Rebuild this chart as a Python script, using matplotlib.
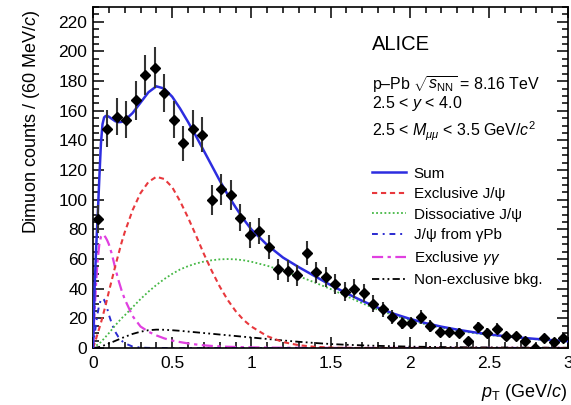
import numpy as np
import matplotlib
matplotlib.use("Agg")
import matplotlib.pyplot as plt
from matplotlib.ticker import MultipleLocator, FuncFormatter

plt.rcParams["font.family"] = ["Liberation Sans", "DejaVu Sans"]
plt.rcParams["mathtext.fontset"] = "custom"
plt.rcParams["mathtext.rm"] = "Liberation Sans"
plt.rcParams["mathtext.it"] = "Liberation Sans:italic"
plt.rcParams["mathtext.bf"] = "Liberation Sans:bold"
plt.rcParams["mathtext.sf"] = "Liberation Sans"

# Measured dimuon pT spectrum, 60 MeV/c bins
pt_bins = [0.03, 0.09, 0.15, 0.21, 0.27, 0.33, 0.39, 0.45, 0.51, 0.57,
           0.63, 0.69, 0.75, 0.81, 0.87, 0.93, 0.99, 1.05, 1.11, 1.17,
           1.23, 1.29, 1.35, 1.41, 1.47, 1.53, 1.59, 1.65, 1.71, 1.77,
           1.83, 1.89, 1.95, 2.01, 2.07, 2.13, 2.19, 2.25, 2.31, 2.37,
           2.43, 2.49, 2.55, 2.61, 2.67, 2.73, 2.79, 2.85, 2.91, 2.97]
counts = [87, 148, 156, 154, 167, 184, 189, 172, 154, 138,
          148, 144, 100, 107, 103, 88, 76, 79, 68, 53,
          52, 49, 64, 51, 48, 43, 38, 40, 37, 30,
          26, 21, 17, 17, 21, 15, 11, 11, 10, 5,
          14, 10, 13, 8, 8, 5, 0, 7, 4, 7]
count_errors = [9.3, 12.2, 12.5, 12.4, 12.9, 13.6, 13.7, 13.1, 12.4, 11.7,
                12.2, 12.0, 10.0, 10.3, 10.1, 9.4, 8.7, 8.9, 8.2, 7.3,
                7.2, 7.0, 8.0, 7.1, 6.9, 6.6, 6.2, 6.3, 6.1, 5.5,
                5.1, 4.6, 4.1, 4.1, 4.6, 3.9, 3.3, 3.3, 3.2, 2.2,
                3.7, 3.2, 3.6, 2.8, 2.8, 2.2, 0.0, 2.6, 2.0, 2.6]

# Fit model components sampled in pT
pt_model = [0.00, 0.01, 0.02, 0.03, 0.04, 0.05, 0.06, 0.07, 0.08, 0.09,
            0.10, 0.12, 0.14, 0.16, 0.18, 0.20, 0.25, 0.30, 0.35, 0.40,
            0.45, 0.50, 0.55, 0.60, 0.65, 0.70, 0.75, 0.80, 0.85, 0.90,
            0.95, 1.00, 1.10, 1.20, 1.30, 1.40, 1.50, 1.60, 1.70, 1.80,
            1.90, 2.00, 2.10, 2.20, 2.30, 2.40, 2.50, 2.60, 2.70, 2.80,
            2.90, 3.00]
fit_sum = [0, 40, 68, 90, 115, 138, 151, 155.5, 156.5, 156.5,
           156, 154.5, 153, 152.3, 152.5, 153.5, 158.5, 165.5, 172.5, 176.5,
           175, 169.5, 161.5, 152.5, 143, 133, 123, 113, 103.5, 95,
           87, 80, 69.5, 61, 54.5, 48.5, 42.5, 37, 31.8, 27.2,
           23.1, 19.7, 16.8, 14.4, 12.4, 10.7, 9.2, 8.0, 7.0, 6.1,
           5.3, 4.6]
excl_jpsi = [0, 3, 6.5, 10, 13.5, 17, 21, 25, 29, 33.5,
             38, 46.5, 55, 63, 71, 78, 93, 104.5, 112, 115.5,
             114, 108.5, 99, 88, 76, 63.5, 52, 41.5, 32.5, 25,
             19, 14.5, 8, 4, 1.9, 0.8, 0.3, 0.1, 0, 0,
             0, 0, 0, 0, 0, 0, 0, 0, 0, 0,
             0, 0]
diss_jpsi = [0, 0.8, 1.6, 2.4, 3.2, 4, 5.2, 6.4, 7.6, 8.8,
             10, 12.6, 15.2, 17.6, 20, 22, 27.5, 33, 38, 42.5,
             46.5, 50, 53, 55.2, 57, 58.3, 59.2, 59.8, 60, 59.8,
             59.2, 58.2, 55.5, 52, 48.4, 44.2, 39.8, 35, 30.2, 25.8,
             22, 18.8, 16, 13.7, 11.8, 10.15, 8.8, 7.65, 6.7, 5.85,
             5.05, 4.4]
jpsi_gpb = [0, 9, 17, 24, 29.5, 32.5, 33.5, 32.5, 30, 26.5,
            22.5, 16, 11, 7.5, 5, 3.2, 1, 0.3, 0.1, 0,
            0, 0, 0, 0, 0, 0, 0, 0, 0, 0,
            0, 0, 0, 0, 0, 0, 0, 0, 0, 0,
            0, 0, 0, 0, 0, 0, 0, 0, 0, 0,
            0, 0]
excl_gg = [0, 25, 45, 60, 70, 75, 76.5, 76, 74.5, 72.5,
           70, 63, 54, 46, 39, 33, 21.5, 14.5, 11, 8.5,
           6.5, 5, 4, 3.1, 2.4, 1.8, 1.4, 1.1, 0.85, 0.7,
           0.55, 0.45, 0.3, 0.2, 0.15, 0.1, 0.08, 0.05, 0.05, 0.05,
           0.05, 0.05, 0.05, 0.05, 0.05, 0.05, 0.05, 0.05, 0.05, 0.05,
           0.05, 0.05]
nonexcl_bkg = [0, 0.1, 0.3, 0.5, 0.7, 1, 1.4, 1.8, 2.2, 2.6,
               3, 3.9, 4.8, 5.7, 6.6, 7.5, 9.5, 11, 12, 12.4,
               12.3, 12, 11.6, 11.1, 10.6, 10.1, 9.6, 9.1, 8.6, 8.1,
               7.6, 7.1, 6.1, 5.1, 4.2, 3.4, 2.7, 2.2, 1.8, 1.45,
               1.2, 0.95, 0.8, 0.65, 0.55, 0.45, 0.4, 0.35, 0.3, 0.25,
               0.22, 0.2]

fig = plt.figure(figsize=(5.71, 4.05), dpi=100)
ax = fig.add_axes([0.1629, 0.1407, 0.8319, 0.842])

ax.plot(pt_model, excl_gg, color="#e040e0", lw=1.6, dashes=(5, 2, 1.5, 2),
        label="Exclusive $\\gamma\\gamma$", zorder=2)
ax.plot(pt_model, jpsi_gpb, color="#2a2ad0", lw=1.4, dashes=(3, 2.5, 1, 2.5),
        label="J/\u03c8 from \u03b3Pb", zorder=2)
ax.plot(pt_model, nonexcl_bkg, color="black", lw=1.3, dashes=(4, 1.8, 1, 1.8, 1, 1.8),
        label="Non-exclusive bkg.", zorder=2)
ax.plot(pt_model, diss_jpsi, color="#45b845", lw=1.3, dashes=(1, 1.3),
        label="Dissociative J/\u03c8", zorder=2)
ax.plot(pt_model, excl_jpsi, color="#e8383d", lw=1.5, dashes=(2.5, 1.8),
        label="Exclusive J/\u03c8", zorder=2)
ax.plot(pt_model, fit_sum, color="#2d2de0", lw=1.8, label="Sum", zorder=3)

ax.errorbar(pt_bins, counts, yerr=count_errors, fmt="D", color="black",
            ecolor="#333333", elinewidth=1.5, markersize=5.5, capsize=0, zorder=4)

ax.set_xlim(0, 3)
ax.set_ylim(0, 230)
ax.xaxis.set_major_locator(MultipleLocator(0.5))
ax.xaxis.set_minor_locator(MultipleLocator(0.1))
ax.yaxis.set_major_locator(MultipleLocator(20))
ax.yaxis.set_minor_locator(MultipleLocator(5))
ax.xaxis.set_major_formatter(FuncFormatter(lambda v, p: "%g" % v))
ax.tick_params(which="both", direction="in", top=True, right=True,
               labelsize=12.5, width=1.1)
ax.tick_params(which="major", length=8)
ax.tick_params(which="minor", length=4)
ax.tick_params(axis="x", pad=6)
ax.tick_params(axis="y", pad=4)
for s in ax.spines.values():
    s.set_linewidth(1.2)

ax.set_ylabel("Dimuon counts / (60 MeV/$c$)", fontsize=13, loc="top")
ax.yaxis.set_label_coords(-0.107, 0.99)
ax.set_xlabel("$p_{\\mathrm{T}}$ (GeV/$c$)", fontsize=13, loc="right")
ax.xaxis.set_label_coords(1.0, -0.10)

ax.text(0.588, 0.875, "ALICE", transform=ax.transAxes, fontsize=14.5, va="baseline")
ax.text(0.588, 0.757, "p\u2013Pb $\\sqrt{s_{\\mathrm{NN}}}$ = 8.16 TeV",
        transform=ax.transAxes, fontsize=11.5, va="baseline")
ax.text(0.588, 0.705, "2.5 < $y$ < 4.0", transform=ax.transAxes, fontsize=11.5,
        va="baseline")
ax.text(0.588, 0.622, "2.5 < $M_{\\mu\\mu}$ < 3.5 GeV/$c^{2}$",
        transform=ax.transAxes, fontsize=11.5, va="baseline")

handles, labels = ax.get_legend_handles_labels()
order = ["Sum", "Exclusive J/\u03c8", "Dissociative J/\u03c8", "J/\u03c8 from \u03b3Pb",
         "Exclusive $\\gamma\\gamma$", "Non-exclusive bkg."]
hmap = dict(zip(labels, handles))
ax.legend([hmap[k] for k in order], order, loc="upper left",
          bbox_to_anchor=(0.575, 0.55), frameon=False, fontsize=11,
          handlelength=2.2, handletextpad=0.5, labelspacing=0.43,
          borderaxespad=0)

fig.savefig("out.png", dpi=100)
